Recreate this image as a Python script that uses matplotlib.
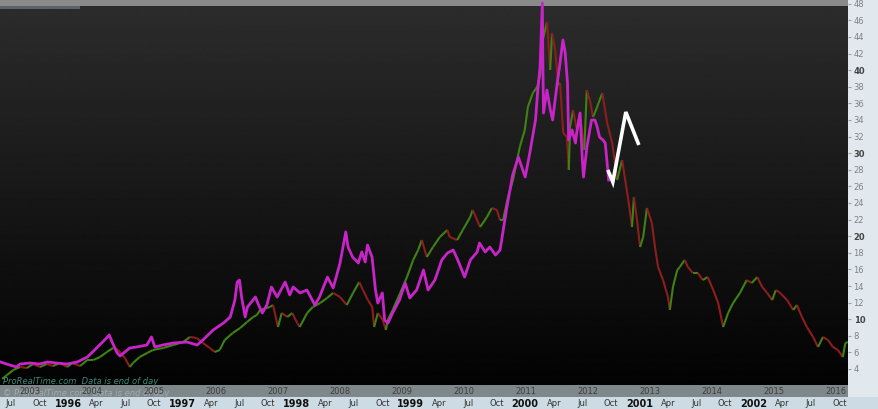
import numpy as np
import matplotlib
matplotlib.use("Agg")
import matplotlib.pyplot as plt
from matplotlib.collections import LineCollection
from matplotlib.patches import Rectangle

# ---------------- data ----------------
# candle-style series (upper time axis, 2003-2016)
cand_t = [2002.55, 2002.63, 2002.73, 2002.84, 2002.95, 2003.05, 2003.16, 2003.27, 2003.37, 2003.48,
          2003.60, 2003.68, 2003.81, 2003.92, 2004.02, 2004.13, 2004.24, 2004.34, 2004.42, 2004.53,
          2004.61, 2004.66, 2004.77, 2004.89, 2004.98, 2005.15, 2005.31, 2005.47, 2005.58, 2005.69,
          2005.79, 2005.90, 2005.98, 2006.06, 2006.14, 2006.27, 2006.39, 2006.50, 2006.60, 2006.66,
          2006.71, 2006.87, 2006.92, 2007.00, 2007.06, 2007.15, 2007.23, 2007.31, 2007.35, 2007.47,
          2007.56, 2007.68, 2007.79, 2007.89, 2008.00, 2008.11, 2008.21, 2008.31, 2008.37, 2008.45,
          2008.52, 2008.55, 2008.61, 2008.69, 2008.74, 2008.77, 2008.85, 2008.97, 2009.08, 2009.18,
          2009.26, 2009.32, 2009.40, 2009.50, 2009.61, 2009.73, 2009.77, 2009.89, 2009.98, 2010.10,
          2010.14, 2010.26, 2010.37, 2010.45, 2010.53, 2010.58, 2010.63, 2010.71, 2010.79, 2010.90,
          2010.98, 2011.03, 2011.11, 2011.18, 2011.23, 2011.27, 2011.34, 2011.39, 2011.42, 2011.47,
          2011.52, 2011.55, 2011.60, 2011.66, 2011.69, 2011.71, 2011.76, 2011.82, 2011.87, 2011.94,
          2011.98, 2012.03, 2012.08, 2012.11, 2012.23, 2012.31, 2012.39, 2012.47, 2012.55, 2012.60,
          2012.65, 2012.71, 2012.74, 2012.79, 2012.84, 2012.89, 2012.95, 2013.03, 2013.08, 2013.13,
          2013.21, 2013.29, 2013.32, 2013.37, 2013.44, 2013.48, 2013.56, 2013.61, 2013.69, 2013.77,
          2013.85, 2013.93, 2014.02, 2014.10, 2014.18, 2014.26, 2014.34, 2014.45, 2014.56, 2014.64,
          2014.73, 2014.81, 2014.89, 2014.97, 2015.03, 2015.10, 2015.21, 2015.31, 2015.37, 2015.45,
          2015.53, 2015.63, 2015.71, 2015.79, 2015.87, 2015.95, 2016.03, 2016.11, 2016.15, 2016.19]
cand_v = [2.80, 3.28, 3.88, 4.24, 4.12, 4.60, 4.24, 4.60, 4.36, 4.72,
          4.24, 4.72, 4.36, 5.08, 5.08, 5.45, 6.05, 6.53, 6.29, 5.33,
          4.24, 4.72, 5.45, 5.93, 6.29, 6.53, 6.89, 7.25, 7.86, 7.73,
          7.13, 6.53, 6.05, 6.29, 7.49, 8.34, 8.94, 9.66, 10.27, 10.51,
          11.11, 11.47, 11.71, 9.06, 10.75, 10.27, 10.75, 9.54, 9.06, 10.75,
          11.47, 11.95, 12.55, 13.16, 12.67, 11.71, 13.16, 14.48, 13.52, 12.31,
          11.47, 9.06, 10.75, 9.90, 8.70, 9.90, 11.11, 13.16, 15.08, 17.13,
          18.34, 19.54, 17.49, 18.70, 19.90, 20.75, 19.90, 19.54, 20.75, 22.31,
          23.16, 21.11, 22.31, 23.40, 23.16, 21.95, 21.95, 24.72, 26.77, 30.75,
          32.80, 35.57, 37.25, 37.98, 39.42, 43.64, 45.81, 40.02, 44.48, 42.43,
          38.22, 38.46, 32.43, 31.95, 27.98, 33.16, 35.20, 32.80, 34.84, 30.39,
          37.61, 36.41, 34.36, 34.84, 37.25, 33.64, 31.23, 26.77, 29.18, 26.77,
          24.36, 21.11, 24.72, 21.95, 18.70, 19.90, 23.40, 21.59, 18.70, 16.29,
          14.72, 12.67, 11.11, 13.88, 15.93, 16.29, 17.13, 16.29, 15.57, 15.57,
          14.72, 15.08, 13.52, 11.95, 9.06, 10.75, 11.95, 13.16, 14.72, 14.36,
          15.08, 13.88, 13.16, 12.31, 13.52, 13.16, 12.31, 11.11, 11.71, 10.27,
          9.06, 7.86, 6.65, 7.86, 7.49, 6.65, 6.29, 5.45, 7.13, 7.25]

# magenta comparison series (lower time axis, 1995-2002)
mag_t = [1995.41, 1995.49, 1995.55, 1995.58, 1995.67, 1995.75, 1995.82, 1995.90, 1995.99, 1996.08,
         1996.17, 1996.25, 1996.32, 1996.36, 1996.39, 1996.43, 1996.455, 1996.54, 1996.60, 1996.69,
         1996.73, 1996.76, 1996.83, 1996.92, 1997.04, 1997.13, 1997.18, 1997.27, 1997.36, 1997.42,
         1997.46, 1997.48, 1997.50, 1997.52, 1997.55, 1997.57, 1997.64, 1997.66, 1997.70, 1997.74,
         1997.78, 1997.83, 1997.90, 1997.94, 1997.97, 1998.03, 1998.09, 1998.16, 1998.20, 1998.27,
         1998.32, 1998.38, 1998.43, 1998.45, 1998.49, 1998.54, 1998.57, 1998.60, 1998.62, 1998.66,
         1998.69, 1998.71, 1998.75, 1998.77, 1998.80, 1998.84, 1998.90, 1998.95, 1998.99, 1999.05,
         1999.11, 1999.15, 1999.21, 1999.27, 1999.32, 1999.37, 1999.41, 1999.47, 1999.52, 1999.58,
         1999.60, 1999.65, 1999.69, 1999.74, 1999.78, 1999.84, 1999.89, 1999.94, 2000.00, 2000.04,
         2000.09, 2000.11, 2000.13, 2000.15, 2000.155, 2000.16, 2000.19, 2000.22, 2000.24, 2000.28,
         2000.30, 2000.33, 2000.35, 2000.37, 2000.38, 2000.41, 2000.44, 2000.45, 2000.48, 2000.50,
         2000.51, 2000.54, 2000.58, 2000.61, 2000.63, 2000.65, 2000.68, 2000.70, 2000.72, 2000.73]
mag_v = [4.84, 4.48, 4.24, 4.60, 4.72, 4.60, 4.84, 4.72, 4.60, 4.84,
         5.45, 6.53, 7.49, 8.10, 7.13, 5.93, 5.57, 6.53, 6.65, 6.89,
         7.86, 6.65, 6.89, 7.13, 7.25, 6.89, 7.49, 8.70, 9.54, 10.27,
         12.31, 14.48, 14.72, 12.55, 10.27, 11.47, 12.67, 11.95, 10.75, 11.71,
         13.88, 12.67, 14.48, 12.92, 13.88, 13.16, 13.52, 11.71, 12.67, 15.08,
         13.76, 16.77, 20.51, 18.70, 17.49, 16.77, 18.10, 16.89, 18.94, 17.49,
         13.52, 11.95, 13.16, 9.90, 9.54, 10.75, 12.31, 14.36, 12.55, 13.52,
         15.93, 13.52, 14.72, 17.13, 17.98, 18.34, 17.13, 15.08, 17.13, 18.10,
         19.18, 18.10, 18.70, 17.73, 18.34, 23.52, 27.37, 29.54, 27.13, 30.02,
         34.00, 37.61, 40.39, 48.10, 40.39, 34.84, 37.61, 35.20, 34.00, 38.46,
         40.39, 43.64, 42.07, 38.46, 31.59, 32.80, 31.23, 32.43, 34.84, 29.18,
         27.13, 30.75, 34.00, 34.00, 33.16, 31.95, 31.59, 31.23, 28.34, 26.77]

# white hand-drawn arrow (upper time axis units)
arrow_t = [2012.32, 2012.40, 2012.61, 2012.82]
arrow_v = [27.98, 26.53, 34.96, 30.99]

upper_years = list(range(2003, 2017))
y_ticks = list(range(4, 49, 2))
month_names = {0: None, 3: "Apr", 6: "Jul", 9: "Oct"}

# ---------------- layout ----------------
W, H = 879, 409
fig = plt.figure(figsize=(W / 100, H / 100), dpi=100)
fig.patch.set_facecolor("#e1e9ee")
plt.rcParams["font.family"] = ["DejaVu Sans"]

plot_right = 848
plot_bottom = 385
ax = fig.add_axes([0, (H - plot_bottom) / H, plot_right / W, plot_bottom / H])

# bands
fig.patches.append(Rectangle((0, 0), 1, 12 / H, transform=fig.transFigure,
                             facecolor="#cddbe4", edgecolor="none", zorder=-2))
fig.patches.append(Rectangle((0, 12 / H), plot_right / W, 12 / H, transform=fig.transFigure,
                             facecolor="#7e878a", edgecolor="none", zorder=-2))

x0_up, x1_up = 2002.516, 2002.516 + plot_right / 62.0
ylo, yhi = 4 - (plot_bottom - 369) / 8.3, 4 + 369 / 8.3
ax.set_xlim(x0_up, x1_up)
ax.set_ylim(ylo, yhi)

# gradient background
grad = np.linspace(0.175, 0.01, 256).reshape(-1, 1)
ax.imshow(grad, cmap="gray", vmin=0, vmax=1, aspect="auto",
          extent=[x0_up, x1_up, ylo, yhi], zorder=0, interpolation="bilinear")
ax.axhspan(4 + (369 - 6) / 8.3, yhi, color="#8a8a8a", zorder=0.5, lw=0)
ax.add_patch(Rectangle((0, (plot_bottom - 9) / plot_bottom), 80 / plot_right, 3 / plot_bottom,
                       transform=ax.transAxes, facecolor="#5c6368", edgecolor="none", zorder=0.6))

# candle-like series
t = np.array(cand_t)
v = np.array(cand_v)
segs = np.stack([np.column_stack([t[:-1], v[:-1]]), np.column_stack([t[1:], v[1:]])], axis=1)
cols = ["#3f8214" if b >= a else "#8e1e1e" for a, b in zip(v[:-1], v[1:])]
ax.add_collection(LineCollection(segs, colors=cols, linewidths=1.5, zorder=2))

# axis styling (upper year axis + right price axis)
for s in ax.spines.values():
    s.set_visible(False)
ax.set_xticks(upper_years)
ax.set_xticklabels([str(y) for y in upper_years], fontsize=6, color="#3e3e3e")
ax.tick_params(axis="x", length=0, pad=1.5)
ax.yaxis.tick_right()
ax.set_yticks(y_ticks)
ax.set_yticklabels([str(y) for y in y_ticks], fontsize=6, color="#808080")
ax.tick_params(axis="y", length=2.5, color="#a0a0a0", pad=1.5)
for lab, val in zip(ax.get_yticklabels(), y_ticks):
    if val % 10 == 0:
        lab.set_fontweight("bold")
        lab.set_color("#444444")

ax.text(0.003, 4 / plot_bottom, "ProRealTime.com  Data is end of day", transform=ax.transAxes,
        fontsize=6, color="#3d8c7e", style="italic", va="center", ha="left", zorder=3)
fig.text(3 / W, 1 - 393 / H, "\u00a9 ProRealTime.com  Data is end of day", fontsize=6,
         color="#a2abad", style="italic", va="center", ha="left", zorder=-1)

# lower (comparison) time axis
ax2 = ax.twiny()
ax2.set_xlim(1995.405, 1995.405 + plot_right / 114.3)
ax2.patch.set_visible(False)
for s in ax2.spines.values():
    s.set_visible(False)
ax2.plot(mag_t, mag_v, color="#c824c8", lw=2.0, zorder=3, solid_joinstyle="round")
ax2.plot(arrow_t, arrow_v, color="white", lw=2.6, zorder=5, transform=ax.transData,
         solid_capstyle="butt", solid_joinstyle="miter")

ticks, labels = [], []
for yr in range(1995, 2003):
    for m in (0, 3, 6, 9):
        pos = yr + m / 12
        if 1995.45 <= pos <= 2002.8:
            ticks.append(pos)
            labels.append(str(yr) if m == 0 else month_names[m])
ax2.xaxis.set_ticks_position("bottom")
ax2.xaxis.set_label_position("bottom")
ax2.set_xticks(ticks)
ax2.set_xticklabels(labels, fontsize=6, color="#333333")
ax2.tick_params(axis="x", length=0, pad=10.0)
for lab, txt in zip(ax2.get_xticklabels(), labels):
    if txt.isdigit():
        lab.set_fontweight("bold")
        lab.set_color("#111111")
        lab.set_fontsize(7)

fig.savefig("out.png", dpi=100, facecolor=fig.get_facecolor())
